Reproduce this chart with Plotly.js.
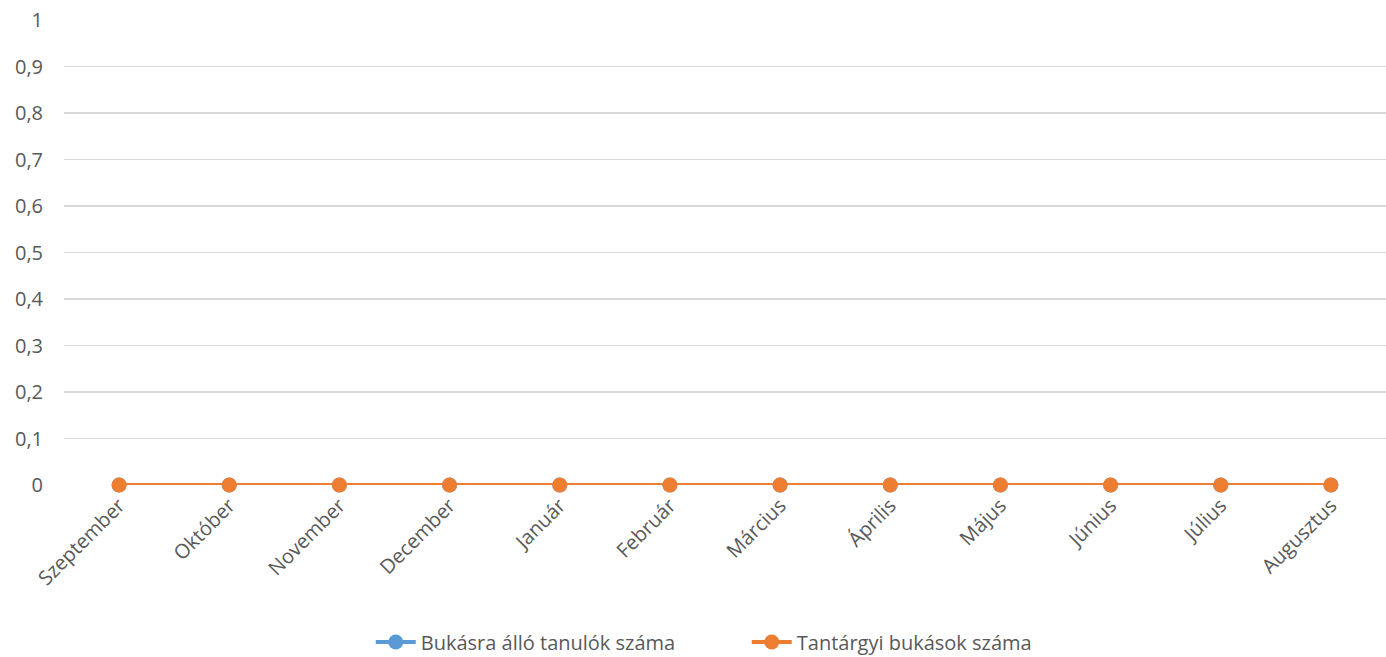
<!DOCTYPE html>
<html>
<head>
<meta charset="utf-8">
<script src="https://cdn.plot.ly/plotly-3.0.1.min.js"></script>
<style>html,body{margin:0;padding:0;background:#fff;}#chart{width:1386px;height:657px;}</style>
</head>
<body>
<div id="chart"></div>
<script>
const months = ["Szeptember","Október","November","December","Január","Február","Március","Április","Május","Június","Július","Augusztus"];
const bukasraAllo = [0,0,0,0,0,0,0,0,0,0,0,0];
const tantargyiBukasok = [0,0,0,0,0,0,0,0,0,0,0,0];
const seriesNames = ["Bukásra álló tanulók száma","Tantárgyi bukások száma"];

const font = "Open Sans, Liberation Sans, sans-serif";
const traces = [
  {x: months, y: bukasraAllo, name: seriesNames[0], type: "scatter", mode: "lines+markers", cliponaxis: false,
   line: {color: "#5B9BD5", width: 4}, marker: {color: "#5B9BD5", size: 15}},
  {x: months, y: tantargyiBukasok, name: seriesNames[1], type: "scatter", mode: "lines+markers", cliponaxis: false,
   line: {color: "#ED7D31", width: 4}, marker: {color: "#ED7D31", size: 15}}
];
const layout = {
  width: 1386, height: 657,
  margin: {l: 64, r: 0, t: 20, b: 172},
  paper_bgcolor: "#fff", plot_bgcolor: "#fff",
  separators: ", ",
  font: {family: font, size: 20, color: "#595959"},
  showlegend: true,
  legend: {orientation: "h", x: 0.2675, xref: "container", xanchor: "left",
           y: 0.0228, yref: "container", yanchor: "middle",
           entrywidth: 321, entrywidthmode: "pixels",
           itemwidth: 40, font: {family: font, size: 20, color: "#595959"}, traceorder: "normal"},
  xaxis: {type: "category", range: [-0.5, 11.5], tickangle: -45, showgrid: false,
          zeroline: false, showline: false, ticks: "", ticklabelstandoff: 4, automargin: false,
          tickfont: {size: 20, color: "#595959"}},
  yaxis: {range: [0, 1], dtick: 0.1, tick0: 0, showgrid: true, gridcolor: "#d9d9d9", gridwidth: 1.5,
          zeroline: false, showline: false, ticks: "", ticklabelstandoff: 20, automargin: false,
          tickfont: {size: 20, color: "#595959"}}
};
Plotly.newPlot("chart", traces, layout, {displayModeBar: false, staticPlot: true});
</script>
</body>
</html>
